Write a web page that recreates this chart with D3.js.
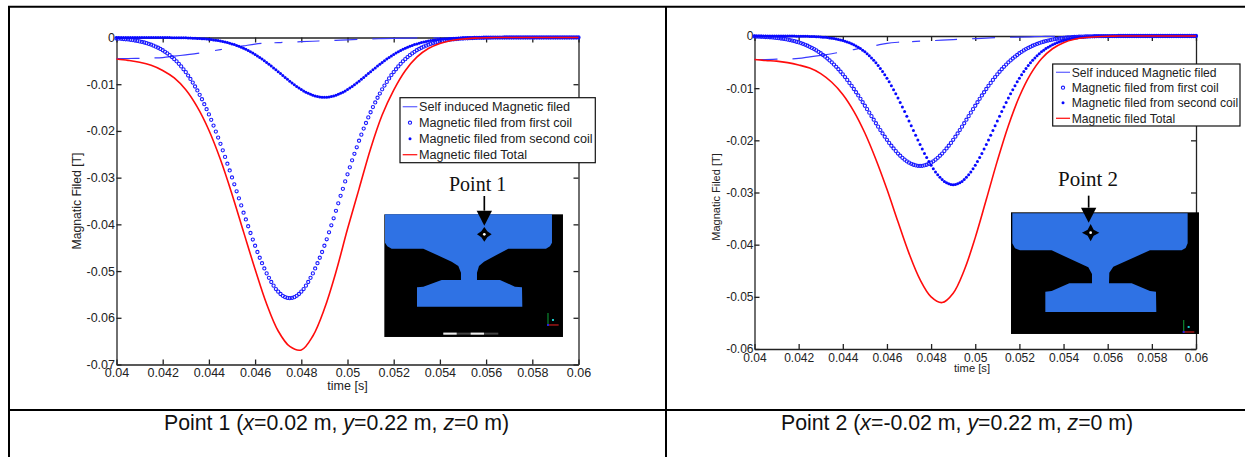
<!DOCTYPE html>
<html>
<head>
<meta charset="utf-8">
<script src="https://d3js.org/d3.v7.min.js"></script>
<style>
  body { margin: 0; background: #fff; }
  svg { display: block; font-family: "Liberation Sans", Arial, sans-serif; }
  .axis path, .axis line { stroke: #222; stroke-width: 1.3; }
  .axis text { fill: #222; font-family: "Liberation Sans", Arial, sans-serif; }
</style>
</head>
<body>
<div id="chart"></div>
<script>
// Field magnitudes below are read off the picture, in mT (the curves are all negative)
// Dense series are sampled every 0.1 ms from 0.04 s, the sparse lines every 0.5 ms
var denseStep = 0.0001;
var sparseStep = 0.0005;
var startTime = 0.04;

var xTicks = [0.04, 0.042, 0.044, 0.046, 0.048, 0.05, 0.052, 0.054, 0.056, 0.058, 0.06];
var yTicks1 = [0, -0.01, -0.02, -0.03, -0.04, -0.05, -0.06, -0.07];
var yTicks2 = [0, -0.01, -0.02, -0.03, -0.04, -0.05, -0.06];

var legendLabels = [
  "Self induced Magnetic filed",
  "Magnetic filed from first coil",
  "Magnetic filed from second coil",
  "Magnetic filed Total"
];

var selfInduced = [
  4.5, 4.5, 4.45, 4.4, 4.3, 4.0, 3.7, 3.4, 3.0, 2.6,
  2.2, 1.8, 1.4, 1.2, 1.1, 1.0, 0.9, 0.8, 0.7, 0.6,
  0.5, 0.4, 0.3, 0.25, 0.2, 0.15, 0.1, 0.07, 0.05, 0.03,
  0.02, 0.01, 0, 0, 0, 0, 0, 0, 0, 0, 0
];

// Point 1
var firstCoil1 = [
  0.21, 0.24, 0.28, 0.32, 0.37, 0.42, 0.49, 0.56, 0.64, 0.73,
  0.83, 0.95, 1.07, 1.21, 1.37, 1.54, 1.74, 1.96, 2.19, 2.45,
  2.73, 3.06, 3.4, 3.78, 4.18, 4.63, 5.11, 5.64, 6.19, 6.81,
  7.42, 8.15, 8.87, 9.65, 10.49, 11.33, 12.28, 13.22, 14.28, 15.35,
  16.46, 17.63, 18.86, 20.14, 21.43, 22.77, 24.16, 25.56, 27.01, 28.46,
  29.96, 31.42, 32.92, 34.43, 35.94, 37.5, 38.95, 40.4, 41.85, 43.25,
  44.58, 45.92, 47.15, 48.32, 49.44, 50.5, 51.45, 52.34, 53.12, 53.85,
  54.41, 54.91, 55.3, 55.58, 55.74, 55.8, 55.74, 55.58, 55.3, 54.91,
  54.41, 53.85, 53.12, 52.34, 51.45, 50.5, 49.44, 48.32, 47.15, 45.92,
  44.58, 43.2, 41.7, 40.2, 38.7, 37.1, 35.5, 33.9, 32.4, 30.8,
  29.3, 27.8, 26.3, 24.9, 23.5, 22.1, 20.8, 19.5, 18.3, 17.1,
  16.0, 14.9, 13.9, 12.9, 12.0, 11.1, 10.3, 9.5, 8.75, 8.05,
  7.4, 6.8, 6.19, 5.64, 5.11, 4.63, 4.18, 3.78, 3.4, 3.06,
  2.73, 2.45, 2.19, 1.96, 1.74, 1.54, 1.37, 1.21, 1.07, 0.95,
  0.83, 0.73, 0.64, 0.56, 0.49, 0.42, 0.37, 0.32, 0.28, 0.24,
  0.21, 0.18, 0.16, 0.14, 0.12, 0.1, 0.08, 0.07, 0.06, 0.05,
  0.04, 0.03, 0.03, 0.02, 0.02, 0.01, 0.01, 0.01, 0, 0,
  0, 0, 0, 0, 0, 0, 0, 0, 0, 0,
  0, 0, 0, 0, 0, 0, 0, 0, 0, 0,
  0, 0, 0, 0, 0, 0, 0, 0, 0, 0,
  0
];

var secondCoil1 = [
  0, 0, 0, 0, 0, 0, 0, 0, 0, 0,
  0, 0, 0, 0, 0, 0, 0, 0.01, 0.01, 0.01,
  0.01, 0.02, 0.02, 0.02, 0.03, 0.03, 0.04, 0.05, 0.06, 0.07,
  0.08, 0.1, 0.12, 0.14, 0.16, 0.19, 0.22, 0.25, 0.29, 0.34,
  0.39, 0.45, 0.51, 0.58, 0.66, 0.75, 0.85, 0.96, 1.09, 1.22,
  1.37, 1.52, 1.7, 1.89, 2.09, 2.31, 2.54, 2.79, 3.05, 3.34,
  3.63, 3.95, 4.28, 4.62, 4.97, 5.34, 5.72, 6.11, 6.51, 6.9,
  7.32, 7.73, 8.14, 8.54, 8.95, 9.34, 9.73, 10.1, 10.47, 10.81,
  11.13, 11.43, 11.7, 11.95, 12.17, 12.36, 12.52, 12.64, 12.73, 12.78,
  12.8,
  12.78, 12.73, 12.64, 12.52, 12.36, 12.17, 11.95, 11.7, 11.43, 11.13,
  10.81, 10.47, 10.1, 9.73, 9.34, 8.95, 8.54, 8.14, 7.73, 7.32,
  6.9, 6.51, 6.11, 5.72, 5.34, 4.97, 4.62, 4.28, 3.95, 3.63,
  3.34, 3.05, 2.79, 2.54, 2.31, 2.09, 1.89, 1.7, 1.52, 1.37,
  1.22, 1.09, 0.96, 0.85, 0.75, 0.66, 0.58, 0.51, 0.45, 0.39,
  0.34, 0.29, 0.25, 0.22, 0.19, 0.16, 0.14, 0.12, 0.1, 0.08,
  0.07, 0.06, 0.05, 0.04, 0.03, 0.03, 0.02, 0.02, 0.02, 0.01,
  0.01, 0.01, 0.01, 0, 0, 0, 0, 0, 0, 0,
  0, 0, 0, 0, 0, 0, 0, 0, 0, 0,
  0, 0, 0, 0, 0, 0, 0, 0, 0, 0,
  0, 0, 0, 0, 0, 0, 0, 0, 0, 0
];

var total1 = [
  4.6, 4.9, 5.3, 5.95, 7.05, 8.66, 11.2, 14.92, 19.85, 26.12,
  33.53, 41.61, 49.61, 57.04, 62.83, 66.14, 66.9, 63.9, 58.08, 50.2,
  41.0, 32.4, 23.8, 16.6, 11.25, 7.1, 4.2, 2.36, 1.27, 0.64,
  0.31, 0.14, 0.05, 0.01, 0, 0, 0, 0, 0, 0, 0
];

// Point 2
var firstCoil2 = [
  0.09, 0.11, 0.12, 0.14, 0.16, 0.19, 0.22, 0.25, 0.28, 0.33,
  0.37, 0.42, 0.48, 0.54, 0.61, 0.69, 0.78, 0.87, 0.98, 1.1,
  1.22, 1.36, 1.52, 1.69, 1.87, 2.07, 2.28, 2.51, 2.76, 3.04,
  3.31, 3.64, 3.96, 4.31, 4.68, 5.05, 5.48, 5.9, 6.37, 6.85,
  7.35, 7.87, 8.42, 8.99, 9.56, 10.16, 10.78, 11.4, 12.05, 12.7,
  13.37, 14.02, 14.69, 15.36, 16.04, 16.73, 17.38, 18.03, 18.68, 19.3,
  19.9, 20.49, 21.04, 21.56, 22.06, 22.53, 22.96, 23.36, 23.7, 24.03,
  24.28, 24.5, 24.68, 24.8, 24.88, 24.9, 24.88, 24.8, 24.68, 24.5,
  24.28, 24.03, 23.7, 23.36, 22.96, 22.53, 22.06, 21.56, 21.04, 20.49,
  19.9, 19.3, 18.68, 18.03, 17.38, 16.73, 16.04, 15.36, 14.69, 14.02,
  13.37, 12.7, 12.05, 11.4, 10.78, 10.16, 9.56, 8.99, 8.42, 7.87,
  7.35, 6.85, 6.37, 5.9, 5.48, 5.05, 4.68, 4.31, 3.96, 3.64,
  3.31, 3.04, 2.76, 2.51, 2.28, 2.07, 1.87, 1.69, 1.52, 1.36,
  1.22, 1.1, 0.98, 0.87, 0.78, 0.69, 0.61, 0.54, 0.48, 0.42,
  0.37, 0.33, 0.28, 0.25, 0.22, 0.19, 0.16, 0.14, 0.12, 0.11,
  0.09, 0.08, 0.07, 0.06, 0.05, 0.04, 0.04, 0.03, 0.03, 0.02,
  0.02, 0.01, 0.01, 0.01, 0.01, 0, 0, 0, 0, 0,
  0, 0, 0, 0, 0, 0, 0, 0, 0, 0,
  0, 0, 0, 0, 0, 0, 0, 0, 0, 0,
  0, 0, 0, 0, 0, 0, 0, 0, 0, 0,
  0
];

var secondCoil2 = [
  0, 0, 0, 0, 0, 0, 0, 0, 0, 0,
  0, 0, 0.01, 0.01, 0.01, 0.01, 0.01, 0.02, 0.02, 0.03,
  0.03, 0.04, 0.05, 0.05, 0.07, 0.08, 0.09, 0.11, 0.13, 0.16,
  0.19, 0.22, 0.26, 0.3, 0.36, 0.42, 0.48, 0.56, 0.65, 0.75,
  0.86, 0.99, 1.13, 1.29, 1.48, 1.68, 1.9, 2.14, 2.42, 2.72,
  3.04, 3.39, 3.79, 4.2, 4.65, 5.14, 5.66, 6.21, 6.8, 7.43,
  8.09, 8.79, 9.53, 10.28, 11.07, 11.89, 12.75, 13.6, 14.49, 15.37,
  16.29, 17.2, 18.12, 19.02, 19.92, 20.8, 21.67, 22.5, 23.3, 24.06,
  24.78, 25.44, 26.06, 26.61, 27.1, 27.52, 27.87, 28.14, 28.34, 28.46,
  28.5,
  28.46, 28.34, 28.14, 27.87, 27.52, 27.1, 26.61, 26.06, 25.44, 24.78,
  24.06, 23.3, 22.5, 21.67, 20.8, 19.92, 19.02, 18.12, 17.2, 16.29,
  15.37, 14.49, 13.6, 12.75, 11.89, 11.07, 10.28, 9.53, 8.79, 8.09,
  7.43, 6.8, 6.21, 5.66, 5.14, 4.65, 4.2, 3.79, 3.39, 3.04,
  2.72, 2.42, 2.14, 1.9, 1.68, 1.48, 1.29, 1.13, 0.99, 0.86,
  0.75, 0.65, 0.56, 0.48, 0.42, 0.36, 0.3, 0.26, 0.22, 0.19,
  0.16, 0.13, 0.11, 0.09, 0.08, 0.07, 0.05, 0.05, 0.04, 0.03,
  0.03, 0.02, 0.02, 0.01, 0.01, 0.01, 0.01, 0.01, 0, 0,
  0, 0, 0, 0, 0, 0, 0, 0, 0, 0,
  0, 0, 0, 0, 0, 0, 0, 0, 0, 0,
  0, 0, 0, 0, 0, 0, 0, 0, 0, 0
];

var total2 = [
  4.5, 4.7, 4.82, 5.1, 5.55, 6.15, 7.2, 8.87, 11.2, 14.44,
  18.6, 23.67, 29.39, 35.62, 41.67, 46.7, 50.0, 51.1, 49.3, 44.9,
  38.65, 31.36, 23.94, 17.19, 11.6, 7.36, 4.36, 2.44, 1.28, 0.64,
  0.3, 0.13, 0.05, 0.01, 0, 0, 0, 0, 0, 0, 0
];

// Rail cross sections, coordinates in the 3x inset space (see insetOrigin below)
var railOutline1 = [[135,403],[636,403],[636,488],[630,499],[618,506],[505,506],[432,545],[417,558],[411,578],[411,600],[480,600],[525,620],[546,622],[547,680],[231,680],[231,622],[250,620],[305,600],[363,600],[363,578],[355,558],[335,545],[250,506],[155,506],[142,499],[135,488]];
var railOutline2 = [[157,490],[683,490],[683,580],[677,594],[665,601],[570,601],[460,650],[448,668],[447,700],[515,700],[570,723],[588,725],[589,786],[256,786],[256,725],[275,723],[328,700],[396,700],[396,672],[385,652],[275,601],[180,601],[165,595],[157,580]];

var svg = d3.select("#chart").append("svg").attr("width", 1245).attr("height", 457);

function mT(v) {
  return -v / 1000;
}

function drawPanel(p) {
  var x = d3.scaleLinear().domain([0.04, 0.06]).range([p.left, p.right]);
  var y = d3.scaleLinear().domain([p.yMin, 0]).range([p.bottom, p.top]);
  var g = svg.append("g");

  // Box with inward ticks on all four sides
  g.append("g").attr("class", "axis").attr("transform", "translate(0," + p.bottom + ")")
    .call(d3.axisBottom(x).tickValues(xTicks).tickSize(-5).tickSizeOuter(0).tickPadding(p.xPad).tickFormat(function (d) { return d; }))
    .selectAll("text").style("font-size", p.tickFont + "px");
  g.append("g").attr("class", "axis").attr("transform", "translate(" + p.left + ",0)")
    .call(d3.axisLeft(y).tickValues(p.yTicks).tickSize(-5).tickSizeOuter(0).tickPadding(p.yPad).tickFormat(function (d) { return d; }))
    .selectAll("text").style("font-size", p.tickFont + "px");
  g.append("g").attr("class", "axis").attr("transform", "translate(0," + p.top + ")")
    .call(d3.axisTop(x).tickValues(xTicks).tickSize(-5).tickSizeOuter(0).tickFormat(""));
  g.append("g").attr("class", "axis").attr("transform", "translate(" + p.right + ",0)")
    .call(d3.axisRight(y).tickValues(p.yTicks).tickSize(-5).tickSizeOuter(0).tickFormat(""));

  g.append("text").attr("x", p.timeX).attr("y", p.timeY).attr("text-anchor", "middle")
    .attr("dy", "0.35em").style("font-size", p.timeFont + "px").attr("fill", "#222").text("time [s]");
  g.append("text").attr("transform", "translate(" + p.magX + "," + p.magY + ") rotate(-90)")
    .attr("text-anchor", "middle").attr("dy", "0.35em").style("font-size", p.magFont + "px")
    .attr("fill", "#222").text("Magnatic Filed [T]");

  var sparseLine = d3.line()
    .x(function (d, i) { return x(startTime + i * sparseStep); })
    .y(function (d) { return y(mT(d)); })
    .curve(d3.curveCatmullRom);

  g.append("path").datum(selfInduced).attr("d", sparseLine)
    .attr("fill", "none").attr("stroke", "#3a3aff").attr("stroke-width", 1.2)
    .attr("stroke-dasharray", "23 15 45 16 7 17 23 13 8 15 22 15");

  g.selectAll(".first").data(p.first).enter().append("circle")
    .attr("class", "first")
    .attr("cx", function (d, i) { return x(startTime + i * denseStep); })
    .attr("cy", function (d) { return y(mT(d)); })
    .attr("r", 1.6).attr("fill", "none").attr("stroke", "#1a1aff").attr("stroke-width", 1.1);

  g.selectAll(".second").data(p.second).enter().append("circle")
    .attr("class", "second")
    .attr("cx", function (d, i) { return x(startTime + i * denseStep); })
    .attr("cy", function (d) { return y(mT(d)); })
    .attr("r", 1.5).attr("fill", "#0808ff");

  g.append("path").datum(p.total).attr("d", sparseLine)
    .attr("fill", "none").attr("stroke", "#ff0c0c").attr("stroke-width", 1.6);

  drawInset(p);
  drawLegend(p);
}

function drawInset(p) {
  var inset = svg.append("g").attr("transform", "translate(" + p.insetOrigin + ") scale(0.3333)");
  var b = p.insetBox;
  inset.append("rect").attr("x", b[0]).attr("y", b[1]).attr("width", b[2] - b[0]).attr("height", b[3] - b[1]).attr("fill", "#000");
  inset.append("path").attr("d", d3.line()(p.rail) + "Z").attr("fill", "#2f72e4");

  // Probe star and arrow
  var s = p.star, a = 9, r = p.starArm;
  inset.append("path").attr("d",
    "M" + s[0] + "," + (s[1] - r) + "L" + (s[0] + a) + "," + (s[1] - a) + "L" + (s[0] + r) + "," + s[1] +
    "L" + (s[0] + a) + "," + (s[1] + a) + "L" + s[0] + "," + (s[1] + r) + "L" + (s[0] - a) + "," + (s[1] + a) +
    "L" + (s[0] - r) + "," + s[1] + "L" + (s[0] - a) + "," + (s[1] - a) + "Z").attr("fill", "#000");
  inset.append("circle").attr("cx", s[0]).attr("cy", s[1]).attr("r", 4).attr("fill", "#fff");
  var ar = p.arrow;
  inset.append("line").attr("x1", ar[0]).attr("x2", ar[0]).attr("y1", ar[1]).attr("y2", ar[2]).attr("stroke", "#000").attr("stroke-width", 5);
  inset.append("path").attr("d", "M" + (ar[0] - 23) + "," + ar[2] + "L" + (ar[0] + 23) + "," + ar[2] + "L" + ar[0] + "," + (ar[2] + 45) + "Z").attr("fill", "#000");

  // Small coordinate triad in the corner
  var t = p.triad;
  inset.append("line").attr("x1", t[0]).attr("x2", t[0]).attr("y1", t[1]).attr("y2", t[1] - 36).attr("stroke", "#0a7a2a").attr("stroke-width", 4);
  inset.append("line").attr("x1", t[0]).attr("x2", t[0] + 32).attr("y1", t[1]).attr("y2", t[1]).attr("stroke", "#b01818").attr("stroke-width", 4);
  inset.append("rect").attr("x", t[0] + 12).attr("y", t[1] - 18).attr("width", 6).attr("height", 6).attr("fill", "#19c8c8");
  inset.append("rect").attr("x", t[0] - 3).attr("y", t[1] - 3).attr("width", 6).attr("height", 6).attr("fill", "#2222dd");

  // Scale bar, only on the first picture
  if (p.scaleBar) {
    inset.append("rect").attr("x", 310).attr("y", 758).attr("width", 165).attr("height", 6).attr("fill", "#444");
    inset.append("rect").attr("x", 310).attr("y", 758).attr("width", 40).attr("height", 6).attr("fill", "#eee");
    inset.append("rect").attr("x", 392).attr("y", 758).attr("width", 40).attr("height", 6).attr("fill", "#eee");
  }

  svg.append("text").attr("x", p.pointX).attr("y", p.pointY)
    .style("font-family", '"Liberation Serif", serif').style("font-size", p.pointFont + "px")
    .attr("fill", "#111").text(p.pointLabel);
}

function drawLegend(p) {
  var l = p.legend;
  var g = svg.append("g");
  g.append("rect").attr("x", l.x0).attr("y", l.y0).attr("width", l.x1 - l.x0).attr("height", l.y1 - l.y0)
    .attr("fill", "#fff").attr("stroke", "#111").attr("stroke-width", 1.2);
  legendLabels.forEach(function (label, i) {
    var rowY = l.rows[i];
    g.append("text").attr("x", l.textX).attr("y", rowY).attr("dy", "0.35em")
      .style("font-size", l.font + "px").attr("fill", "#222").text(label);
    if (i === 0 || i === 3) {
      g.append("line").attr("x1", l.lineX0).attr("x2", l.lineX1).attr("y1", rowY).attr("y2", rowY)
        .attr("stroke", i === 0 ? "#6a6aff" : "#ff1a1a").attr("stroke-width", 1.3);
    } else if (i === 1) {
      g.append("circle").attr("cx", (l.lineX0 + l.lineX1) / 2).attr("cy", rowY).attr("r", 1.6)
        .attr("fill", "none").attr("stroke", "#1a1aff").attr("stroke-width", 1.1);
    } else {
      g.append("circle").attr("cx", (l.lineX0 + l.lineX1) / 2).attr("cy", rowY).attr("r", 1.5).attr("fill", "#0808ff");
    }
  });
}

drawPanel({
  left: 116.5, right: 578.5, top: 37.5, bottom: 364.5, yMin: -0.07, yTicks: yTicks1,
  first: firstCoil1, second: secondCoil1, total: total1,
  xPad: 3.6, yPad: 1.5, tickFont: 12.5,
  timeX: 347.5, timeY: 385.7, timeFont: 12.5,
  magX: 77, magY: 201, magFont: 12.2,
  insetOrigin: "340,80", insetBox: [133, 403, 669, 771], rail: railOutline1,
  star: [433, 463], starArm: 22, arrow: [433, 348, 392], triad: [624, 735], scaleBar: true,
  pointLabel: "Point 1", pointX: 449, pointY: 191, pointFont: 20,
  legend: { x0: 400, x1: 595.3, y0: 97.7, y1: 162.7, textX: 419, lineX0: 402.7, lineX1: 417.3,
    rows: [106.7, 122.7, 138.7, 154.7], font: 12.65 }
});

drawPanel({
  left: 754.5, right: 1196, top: 36, bottom: 349, yMin: -0.06, yTicks: yTicks2,
  first: firstCoil2, second: secondCoil2, total: total2,
  xPad: 4, yPad: 1, tickFont: 12,
  timeX: 972, timeY: 368, timeFont: 11.2,
  magX: 716, magY: 197, magFont: 11,
  insetOrigin: "960,50", insetBox: [153, 487, 717, 852], rail: railOutline2,
  star: [392, 548], starArm: 26, arrow: [386, 437, 473], triad: [671, 846], scaleBar: false,
  pointLabel: "Point 2", pointX: 1058, pointY: 186, pointFont: 21,
  legend: { x0: 1052.7, x1: 1240, y0: 64, y1: 126, textX: 1071.7, lineX0: 1056, lineX1: 1070,
    rows: [72.3, 87.7, 102.7, 118.3], font: 12.14 }
});

// Table rules of the document the figure sits in
var rules = [[8, 6.7, 1245, 6.7], [8, 410, 1245, 410], [9, 6, 9, 457], [666, 6, 666, 457]];
svg.selectAll(".rule").data(rules).enter().append("line").attr("class", "rule")
  .attr("x1", function (d) { return d[0]; }).attr("y1", function (d) { return d[1]; })
  .attr("x2", function (d) { return d[2]; }).attr("y2", function (d) { return d[3]; })
  .attr("stroke", "#000").attr("stroke-width", 2);

// Captions under the pictures
function caption(x, parts) {
  var t = svg.append("text").attr("x", x).attr("y", 430).style("font-size", "21.3px").attr("fill", "#111");
  parts.forEach(function (part, i) {
    t.append("tspan").style("font-style", i % 2 ? "italic" : "normal").text(part);
  });
}
caption(164, ["Point 1 (", "x", "=0.02 m, ", "y", "=0.22 m, ", "z", "=0 m)"]);
caption(781, ["Point 2 (", "x", "=-0.02 m, ", "y", "=0.22 m, ", "z", "=0 m)"]);
</script>
</body>
</html>
